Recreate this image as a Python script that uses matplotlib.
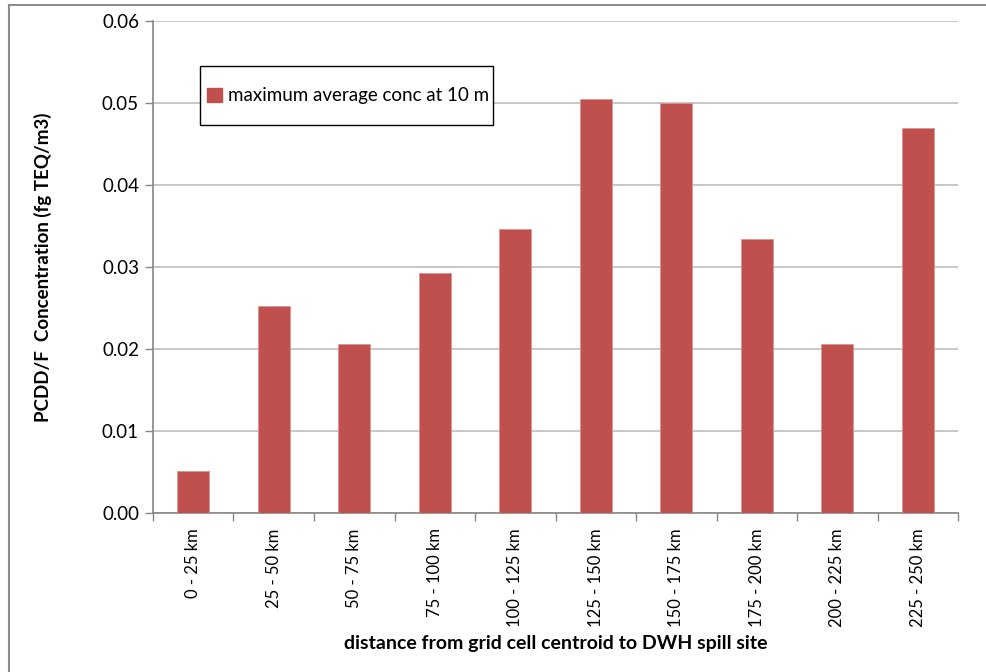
import matplotlib
matplotlib.use("Agg")
import matplotlib.pyplot as plt
from matplotlib.patches import Patch, Rectangle
from matplotlib.lines import Line2D

categories = ["0 - 25 km", "25 - 50 km", "50 - 75 km", "75 - 100 km", "100 - 125 km",
              "125 - 150 km", "150 - 175 km", "175 - 200 km", "200 - 225 km", "225 - 250 km"]
values = [0.0051, 0.0252, 0.0206, 0.0293, 0.0346, 0.0505, 0.0500, 0.0334, 0.0206, 0.0470]
yticks = [0.00, 0.01, 0.02, 0.03, 0.04, 0.05, 0.06]
series_name = "maximum average conc at 10 m"

plt.rcParams['font.family'] = ['Lato', 'DejaVu Sans']

W, H = 987, 672
fig = plt.figure(figsize=(W/100, H/100), dpi=100)
ax = fig.add_axes([153/W, 1-513/H, (958-153)/W, (513-21)/H])

bar_color = "#C0504D"
x = list(range(len(categories)))
ax.bar(x, values, width=0.4, color=bar_color, edgecolor="#D99694", linewidth=0.6, zorder=3)

ax.set_xlim(-0.5, len(categories)-0.5)
ax.set_ylim(0, 0.06)
ax.set_yticks(yticks)
ax.set_yticklabels([f"{v:.2f}" for v in yticks], fontsize=13.5)
ax.yaxis.grid(True, color="#BEBEBE", linewidth=1.2, zorder=0)
ax.set_axisbelow(True)

ax.set_xticks(x)
ax.set_xticklabels(categories, rotation=90, fontsize=12)
ax.tick_params(axis='x', length=0, pad=11)
ax.set_xticks([i-0.5 for i in range(len(categories)+1)], minor=True)
ax.tick_params(axis='x', which='minor', length=6, color="#868686", width=1)
ax.tick_params(axis='y', length=6, color="#868686", width=1, pad=4)

for s in ["top", "right"]:
    ax.spines[s].set_visible(False)
for s in ["left", "bottom"]:
    ax.spines[s].set_color("#868686")
    ax.spines[s].set_linewidth(1.2)

ax.set_ylabel("PCDD/F  Concentration (fg TEQ/m3)", fontsize=13.5, fontweight="bold", labelpad=36)
ax.set_xlabel("distance from grid cell centroid to DWH spill site", fontsize=14,
              fontweight="bold", labelpad=6)

# legend box (Excel style, drawn as a frame) with frameless legend inside
fig.add_artist(Rectangle((200/W, 1-125/H), (493-200)/W, (125-66)/H, transform=fig.transFigure,
                         facecolor="white", edgecolor="black", linewidth=1.0, zorder=4))
handle = Patch(facecolor=bar_color, edgecolor=bar_color)
leg = fig.legend([handle], [series_name], loc="center left",
                 bbox_to_anchor=(207/W, 1-96/H), bbox_transform=fig.transFigure,
                 fontsize=13.5, frameon=False, borderpad=0,
                 handlelength=0.8, handleheight=0.8, handletextpad=0.3, borderaxespad=0)
leg.set_zorder(5)

# outer chart border (top and left visible)
fig.add_artist(Line2D([9/W, 9/W], [0, 1-5/H], color="#8C8C8C", linewidth=1.5))
fig.add_artist(Line2D([9/W, 1], [1-5/H, 1-5/H], color="#8C8C8C", linewidth=1.5))

fig.savefig("out.png", dpi=100)
